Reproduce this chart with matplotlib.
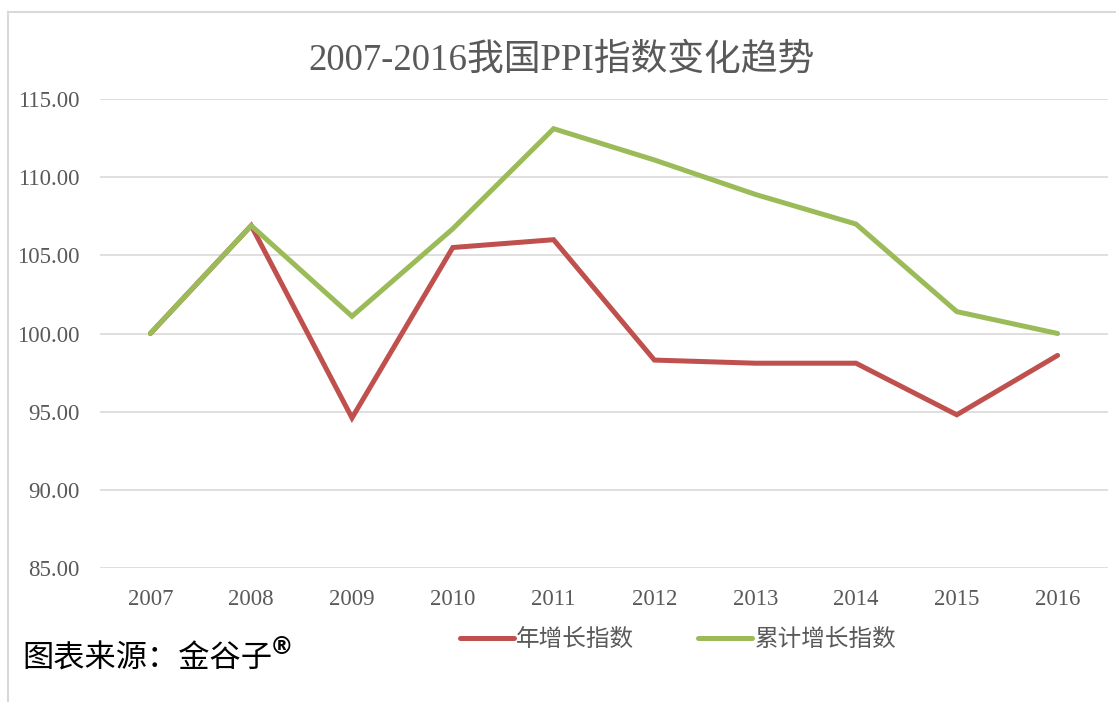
import matplotlib
matplotlib.use("Agg")
import matplotlib.pyplot as plt
from matplotlib.lines import Line2D

# donnees
annees = ["2007", "2008", "2009", "2010", "2011", "2012", "2013", "2014", "2015", "2016"]
indice_annuel = [100.0, 106.9, 94.6, 105.5, 106.0, 98.3, 98.1, 98.1, 94.8, 98.6]
indice_cumule = [100.0, 106.9, 101.1, 106.7, 113.1, 111.1, 108.9, 107.0, 101.4, 100.0]
y_ticks = [85, 90, 95, 100, 105, 110, 115]

titre = "2007-2016我国PPI指数变化趋势"
noms_series = ["年增长指数", "累计增长指数"]
source = "图表来源：金谷子"

polices = ["Liberation Serif", "Noto Sans CJK SC", "DejaVu Sans"]
plt.rcParams["font.family"] = polices

gris_texte = "#595959"
gris_ligne = "#D9D9D9"
rouge = "#C0504D"
vert = "#9BBB59"

fig = plt.figure(figsize=(11.16, 7.02), dpi=100)
ax = fig.add_axes([100 / 1116, 1 - 568 / 702, 1008 / 1116, 469 / 702])

x = list(range(len(annees)))
ax.plot(x, indice_annuel, color=rouge, linewidth=3.6, solid_capstyle="round",
        solid_joinstyle="miter", label=noms_series[0], zorder=3)
ax.plot(x, indice_cumule, color=vert, linewidth=3.6, solid_capstyle="round",
        solid_joinstyle="miter", label=noms_series[1], zorder=4)

ax.set_xlim(-0.5, len(annees) - 0.5)
ax.set_ylim(85, 115)
ax.set_yticks(y_ticks)
ax.set_yticklabels([f"{v:.2f}" for v in y_ticks])
ax.set_xticks(x)
ax.set_xticklabels(annees)

ax.grid(axis="y", color=gris_ligne, linewidth=1.2)
ax.set_axisbelow(True)
for s in ax.spines.values():
    s.set_visible(False)
ax.tick_params(axis="both", length=0, labelsize=16.5, colors=gris_texte)
ax.tick_params(axis="y", pad=15)
ax.tick_params(axis="x", pad=15)

fig.text(561 / 1116, 1 - 60 / 702, titre, fontsize=26.5, color=gris_texte,
         ha="center", va="center")

fig.legend(loc="center", bbox_to_anchor=(678 / 1116, 1 - 640 / 702), ncol=2,
           frameon=False, fontsize=17, handlelength=2.3, handletextpad=0.1,
           columnspacing=2.7, labelcolor=gris_texte)

fig.text(22 / 1116, 1 - 660 / 702, source, fontsize=22.5, color="black",
         ha="left", va="center")
fig.text(270 / 1116, 1 - 647 / 702, "®", fontsize=17, color="black",
         fontweight="bold", family="DejaVu Sans", ha="left", va="center")

# cadre gris a gauche et en haut
fig.add_artist(Line2D([8 / 1116, 8 / 1116], [0, 1 - 12 / 702], color=gris_ligne,
                      linewidth=1.5, transform=fig.transFigure))
fig.add_artist(Line2D([8 / 1116, 1], [1 - 12 / 702, 1 - 12 / 702], color=gris_ligne,
                      linewidth=1.5, transform=fig.transFigure))

fig.savefig("out.png", dpi=100)
